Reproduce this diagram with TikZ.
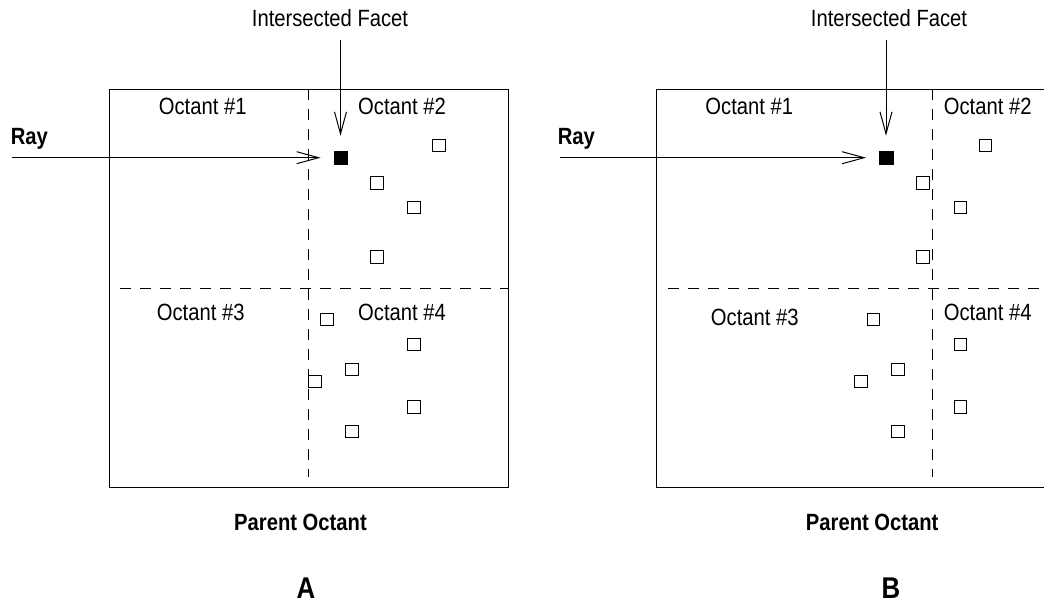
\documentclass[tikz,border=0pt]{standalone}
\usepackage{fontspec}
\setmainfont{Liberation Sans}[FakeStretch=0.86]
\usetikzlibrary{arrows.meta}
\tikzset{
  lbl/.style={inner sep=0pt, anchor=base, font=\fontsize{23.5}{24}\selectfont},
  blbl/.style={lbl, font=\fontsize{23.5}{24}\selectfont\bfseries},
  biglbl/.style={inner sep=0pt, anchor=base, font=\fontsize{30}{30}\selectfont\bfseries},
  facet/.style={draw, line width=0.9pt, fill=white, inner sep=0pt, minimum size=12.7pt},
  hitfacet/.style={draw, fill=black, inner sep=0pt, minimum size=13.5pt},
  frame/.style={line width=1.1pt},
  split/.style={line width=1pt, dash pattern=on 11pt off 9pt},
  arr/.style={line width=1pt, -{Straight Barb[length=22pt,width=12pt,line width=1pt]}}
}
\begin{document}
\begin{tikzpicture}[x=1pt,y=-1pt]
\useasboundingbox (0,0) rectangle (1044,603);
\clip (0,0) rectangle (1044,603);
% ---------------- Panel A ----------------
\node[frame, draw, inner sep=0pt, minimum width=398.4pt, minimum height=397.7pt, anchor=north west] (boxA) at (109.3,89.3) {};
\draw[split] (308.3,89.3) coordinate (vA1) -- (308.3,477) coordinate (vA2);
\draw[split] (120,288) coordinate (hA1) -- (507.7,288) coordinate (hA2);
\node[lbl] (oA1) at (202.7,114) {Octant \#1};
\node[lbl] (oA2) at (402,114) {Octant \#2};
\node[lbl] (oA3) at (200.7,320.7) {Octant \#3};
\node[lbl] (oA4) at (402,320.7) {Octant \#4};
\node[hitfacet] (fA) at (340.5,157.7) {};
\foreach \n/\x/\y in {1/439/145.3, 2/377/182.7, 3/414/207.3, 4/377/257,
  5/327/319.3, 6/414/344.3, 7/352/369.3, 8/314.7/381.3, 9/414/406.7, 10/352/431.3}
  \node[facet] (fA\n) at (\x,\y) {};
\node[lbl] (ifA) at (330,26.7) {Intersected Facet};
\coordinate (ifAs) at (340.5,40);
\draw[arr, shorten >=15pt] (ifAs) -- (fA.north);
\node[blbl, anchor=base west] (rayA) at (10.7,144) {Ray};
\coordinate (rayAs) at (12.3,157.7);
\draw[arr, shorten >=13pt] (rayAs) -- (fA.west);
\node[blbl] (pA) at (300.5,530) {Parent Octant};
\node[biglbl] (A) at (306,598) {A};
% ---------------- Panel B ----------------
\node[frame, draw, inner sep=0pt, minimum width=398.4pt, minimum height=397.7pt, anchor=north west] (boxB) at (656.3,89.3) {};
\draw[split] (932,89.3) coordinate (vB1) -- (932,477) coordinate (vB2);
\draw[split] (667.7,288) coordinate (hB1) -- (1054.7,288) coordinate (hB2);
\node[lbl] (oB1) at (749.3,114) {Octant \#1};
\node[lbl] (oB2) at (987.7,114) {Octant \#2};
\node[lbl] (oB3) at (754.8,325.7) {Octant \#3};
\node[lbl] (oB4) at (987.7,320.7) {Octant \#4};
\node[hitfacet] (fB) at (886,157.7) {};
\foreach \n/\x/\y in {1/985.3/145.3, 2/923/182.7, 3/960.3/207.3, 4/923/257,
  5/873.3/319.3, 6/960.3/344.3, 7/898/369.3, 8/860.7/381.3, 9/960.3/406.7, 10/898/431.3}
  \node[facet] (fB\n) at (\x,\y) {};
\node[lbl] (ifB) at (889,26.7) {Intersected Facet};
\coordinate (ifBs) at (886,40);
\draw[arr, shorten >=15pt] (ifBs) -- (fB.north);
\node[blbl, anchor=base west] (rayB) at (557.7,144) {Ray};
\coordinate (rayBs) at (560,157.7);
\draw[arr, shorten >=13pt] (rayBs) -- (fB.west);
\node[blbl] (pB) at (872.2,530) {Parent Octant};
\node[biglbl] (B) at (891,598) {B};
\end{tikzpicture}
\end{document}
